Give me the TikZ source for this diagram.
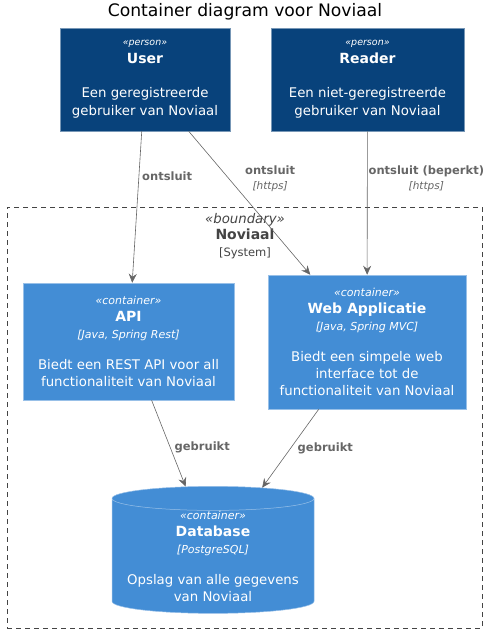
\documentclass[tikz,border=0pt]{standalone}
\usepackage{fontspec}
\setmainfont{DejaVu Sans}
\usepackage{tikz}
\usetikzlibrary{arrows.meta, shapes.geometric}

\definecolor{personblue}{HTML}{08427B}
\definecolor{contblue}{HTML}{438DD5}
\definecolor{relgray}{HTML}{666666}
\definecolor{bndgray}{HTML}{444444}

\tikzset{
	box/.style={inner sep=0pt, text=white, align=center, line width=0.5pt,
		font=\fontsize{13.3}{17}\selectfont},
	personbox/.style={box, fill=personblue, draw=personblue!55!white},
	contbox/.style={box, fill=contblue, draw=contblue!55!white},
	rel/.style={relgray, line width=0.6pt, -{Stealth[length=9pt, width=8pt, inset=3pt]}},
	rellabel/.style={text=relgray, align=center, inner sep=0pt,
		font=\fontsize{11.5}{15}\selectfont\bfseries}
}

\newcommand{\stereo}[2]{{\fontsize{#1}{17}\selectfont\itshape «#2»}}
\newcommand{\cname}[1]{{\fontsize{14}{17}\selectfont\bfseries #1}}
\newcommand{\tech}[1]{{\fontsize{11}{17}\selectfont\itshape [#1]}}

\begin{document}
\begin{tikzpicture}[x=1pt, y=-1pt]
	\useasboundingbox (0,0) rectangle (493,632);

	\node [font=\fontsize{17.2}{20}\selectfont] (title) at (245,12) {Container diagram voor Noviaal};

	% de systeemgrens
	\node [draw=bndgray, dash pattern=on 5pt off 4pt, line width=0.6pt,
		minimum width=475pt, minimum height=421pt, inner sep=0pt] (boundary) at (244.5,417.5) {};
	\node [anchor=north, align=center, text=bndgray, inner sep=0pt,
		font=\fontsize{11.5}{16.5}\selectfont] (boundarylabel) at (245,213)
		{{\fontsize{13.3}{16}\selectfont\itshape «boundary»}\\
		 {\fontsize{14}{16}\selectfont\bfseries Noviaal}\\
		 {[System]}};

	% personen
	\node [personbox, minimum width=170pt, minimum height=103pt] (user) at (145,79.5)
		{\stereo{9.5}{person}\\[1pt] \cname{User}\\[17pt]
		 Een geregistreerde\\[1pt] gebruiker van Noviaal};
	\node [personbox, minimum width=193pt, minimum height=103pt] (reader) at (367.5,79.5)
		{\stereo{9.5}{person}\\[1pt] \cname{Reader}\\[17pt]
		 Een niet-geregistreerde\\[1pt] gebruiker van Noviaal};

	% containers
	\node [contbox, minimum width=211pt, minimum height=117pt] (api) at (128.5,341.5)
		{\stereo{11}{container}\\ \cname{API}\\ \tech{Java, Spring Rest}\\[14pt]
		 Biedt een REST API voor all\\ functionaliteit van Noviaal};
	\node [contbox, minimum width=198pt, minimum height=134pt] (webapp) at (367,342)
		{\stereo{11}{container}\\ \cname{Web Applicatie}\\ \tech{Java, Spring MVC}\\[14pt]
		 Biedt een simpele web\\ interface tot de\\ functionaliteit van Noviaal};
	\node [contbox, cylinder, shape border rotate=90, aspect=0.14,
		minimum width=202pt, minimum height=127pt] (db) at (213,556)
		{\stereo{11}{container}\\ \cname{Database}\\ \tech{PostgreSQL}\\[14pt]
		 Opslag van alle gegevens\\ van Noviaal};

	% relaties
	\draw [rel] (user) -- (api) node [rellabel, pos=0.3, anchor=west, xshift=3pt] {ontsluit};
	\draw [rel] (user) -- (webapp) node [rellabel, pos=0.33, anchor=west, xshift=16pt]
		{ontsluit\\ {\fontsize{10.5}{15}\selectfont\mdseries\itshape [https]}};
	\draw [rel] (reader) -- (webapp) node [rellabel, pos=0.33, anchor=west, xshift=1pt]
		{ontsluit (beperkt)\\ {\fontsize{10.5}{15}\selectfont\mdseries\itshape [https]}};
	\draw [rel] (api) -- (db) node [rellabel, pos=0.55, anchor=west, xshift=4pt] {gebruikt};
	\draw [rel] (webapp) -- (db) node [rellabel, pos=0.5, anchor=west, xshift=7pt] {gebruikt};
\end{tikzpicture}
\end{document}
